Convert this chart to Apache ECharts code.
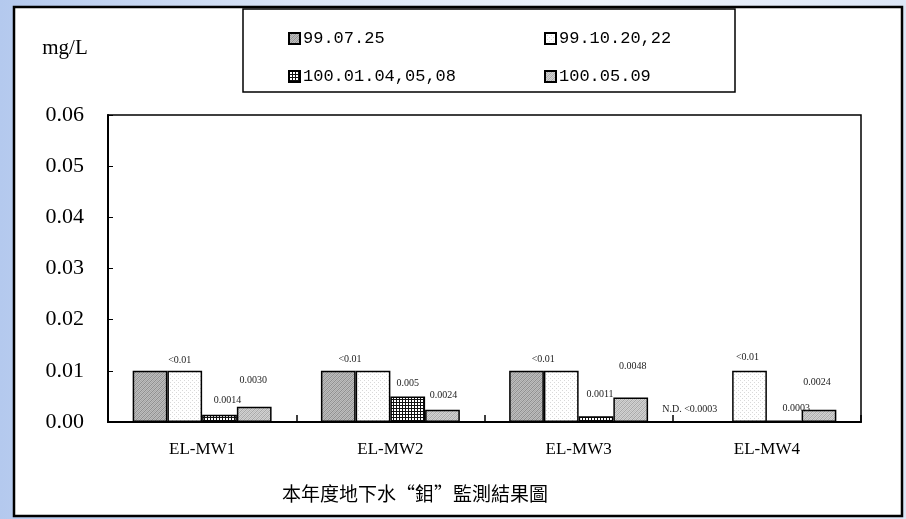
<!DOCTYPE html>
<html>
<head>
<meta charset="utf-8">
<script src="https://cdn.jsdelivr.net/npm/echarts@6/dist/echarts.min.js"></script>
<style>
html,body{margin:0;padding:0;width:906px;height:519px;overflow:hidden;
background:linear-gradient(to right,#b4c9ee 0px,#dbe5f6 300px,#eef3fb 600px,#dce6f6 906px);}
#c{width:906px;height:519px;}
</style>
</head>
<body>
<div id="c"></div>
<script>
// ---- data ----
const categories = ['EL-MW1', 'EL-MW2', 'EL-MW3', 'EL-MW4'];
const seriesNames = ['99.07.25', '99.10.20,22', '100.01.04,05,08', '100.05.09'];
const s1 = [0.01, 0.01, 0.01, 0];
const s2 = [0.01, 0.01, 0.01, 0.01];
const s3 = [0.0014, 0.005, 0.0011, 0.0003];
const s4 = [0.0030, 0.0024, 0.0048, 0.0024];
const labels1 = ['', '', '', 'N.D. <0.0003'];
const labels2 = ['<0.01', '<0.01', '<0.01', '<0.01'];
const labels3 = ['0.0014', '0.005', '0.0011', '0.0003'];
const labels4 = ['0.0030', '0.0024', '0.0048', '0.0024'];
const yTicks = [0, 0.01, 0.02, 0.03, 0.04, 0.05, 0.06];

// ---- label offsets (styling) ----
const off1 = [[0,0],[0,0],[0,0],[-25,-7]];
const off2 = [[-5,-5],[-23,-6],[-18,-6],[-2,-8]];
const off3 = [[8,-9],[0,-8],[4,-17],[12,-7]];
const off4 = [[-1,-21],[1,-9],[2,-26],[-2,-22]];

function pattern(kind){
  const c = document.createElement('canvas');
  const n = kind === 'grid' ? 3 : 4;
  c.width = n; c.height = n;
  const g = c.getContext('2d');
  if (kind === 'hatchDark') {
    g.fillStyle = '#bdbdbd'; g.fillRect(0,0,n,n);
    g.fillStyle = '#8f8f8f';
    for (let i=0;i<n;i++) { g.fillRect(i,(n-1-i),1,1); }
    g.fillStyle = '#a6a6a6';
    for (let i=0;i<n;i++) { g.fillRect(i,(n+1-i)%n,1,1); }
  } else if (kind === 'hatchLight') {
    g.fillStyle = '#d2d2d2'; g.fillRect(0,0,n,n);
    g.fillStyle = '#a8a8a8';
    for (let i=0;i<n;i++) { g.fillRect(i,(n-1-i),1,1); }
    g.fillStyle = '#bcbcbc';
    for (let i=0;i<n;i++) { g.fillRect(i,(n+1-i)%n,1,1); }
  } else if (kind === 'dots') {
    g.fillStyle = '#ffffff'; g.fillRect(0,0,n,n);
    g.fillStyle = '#d9d9d9';
    g.fillRect(0,0,1,1); g.fillRect(2,2,1,1);
  } else {
    g.fillStyle = '#ffffff'; g.fillRect(0,0,n,n);
    g.fillStyle = '#111111';
    g.fillRect(0,0,n,1); g.fillRect(0,0,1,n);
  }
  return {image: c, repeat: 'repeat'};
}

const fills = [pattern('hatchDark'), pattern('dots'), pattern('grid'), pattern('hatchLight')];
const values = [s1, s2, s3, s4];
const lbls = [labels1, labels2, labels3, labels4];
const offs = [off1, off2, off3, off4];

const series = seriesNames.map((name, si) => ({
  name: name,
  type: 'bar',
  barGap: '0%',
  barCategoryGap: '26.2%',
  itemStyle: {color: fills[si], borderColor: '#000', borderWidth: 1.5},
  emphasis: {disabled: true},
  label: {
    show: true, position: 'top', distance: 0,
    fontFamily: 'Liberation Serif', fontSize: 10, color: '#222', lineHeight: 10
  },
  data: values[si].map((v, i) => ({
    value: v,
    label: {formatter: lbls[si][i], offset: offs[si][i], show: lbls[si][i] !== ''}
  }))
}));

const chart = echarts.init(document.getElementById('c'), null, {renderer: 'canvas'});
const legendCommon = {
  orient: 'vertical', itemWidth: 11, itemHeight: 11, itemGap: 21, icon: 'rect',
  textStyle: {fontFamily: 'Liberation Mono', fontSize: 17, color: '#000', padding: [0,0,0,-2]},
  selectedMode: false
};
chart.setOption({
  animation: false,
  grid: {left: 108, right: 45, top: 115, bottom: 97, show: true, borderColor: '#000', borderWidth: 1.5, containLabel: false},
  legend: [
    Object.assign({left: 283, top: 25, data: [seriesNames[0], seriesNames[2]]}, legendCommon),
    Object.assign({left: 539, top: 25, data: [seriesNames[1], seriesNames[3]]}, legendCommon)
  ],
  xAxis: {
    type: 'category', data: categories,
    axisLine: {lineStyle: {color: '#000', width: 2}},
    axisTick: {show: true, inside: true, length: 7, lineStyle: {color: '#000', width: 1.5}},
    axisLabel: {margin: 19, fontFamily: 'Liberation Serif', fontSize: 17, color: '#000'},
    splitLine: {show: false}
  },
  yAxis: {
    type: 'value', min: 0, max: 0.06, interval: 0.01,
    axisLine: {show: true, lineStyle: {color: '#000', width: 2}},
    axisTick: {show: true, inside: true, length: 5, lineStyle: {color: '#000', width: 1}},
    axisLabel: {margin: 24, fontFamily: 'Liberation Serif', fontSize: 22, color: '#000',
      formatter: v => yTicks.includes(Math.round(v*100)/100) ? v.toFixed(2) : ''},
    splitLine: {show: false}
  },
  graphic: [
    {type: 'rect', z: -10, silent: true, shape: {x: 14, y: 7, width: 888, height: 509},
     style: {fill: '#fff', stroke: '#000', lineWidth: 2.5}},
    {type: 'rect', z: -5, silent: true, shape: {x: 243, y: 9, width: 492, height: 83},
     style: {fill: '#fff', stroke: '#000', lineWidth: 1.5}},
    {type: 'text', x: 65, y: 48, silent: true,
     style: {text: 'mg/L', fontFamily: 'Liberation Serif', fontSize: 21, fill: '#000', textAlign: 'center', textVerticalAlign: 'middle'}},
    {type: 'text', x: 415, y: 494, silent: true,
     style: {text: '本年度地下水“鉬”監測結果圖', fontFamily: 'Noto Sans CJK TC', fontSize: 19, fill: '#000', textAlign: 'center', textVerticalAlign: 'middle'}}
  ],
  series: series
});
</script>
</body>
</html>
